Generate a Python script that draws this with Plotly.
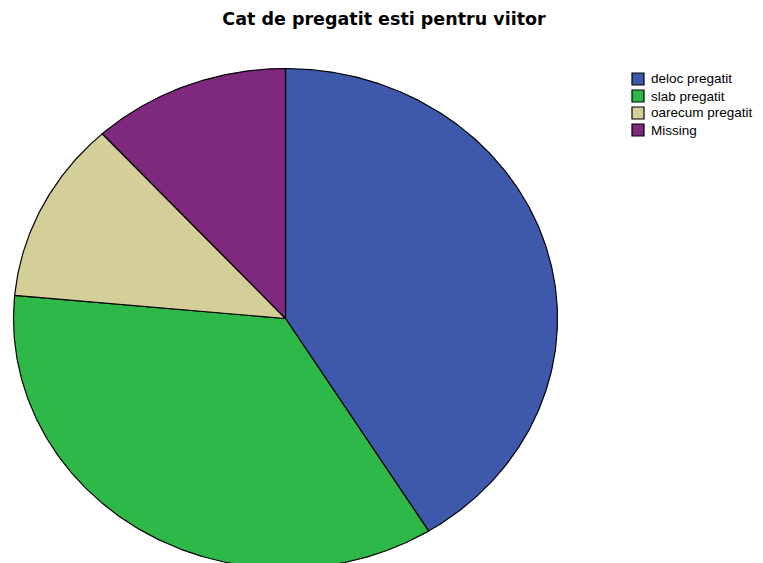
import numpy as np
import plotly.graph_objects as go

# Survey answers: "Cat de pregatit esti pentru viitor"
categories = ["deloc pregatit", "slab pregatit", "oarecum pregatit", "Missing"]
counts = [7, 6, 2, 2]
colors = ["#3E58AC", "#2EB848", "#D4CE98", "#7E287E"]

# Slices drawn as filled wedges on a unit circle; the axis ranges stretch it
# into an ellipse (wider than tall), starting at 12 o'clock going clockwise.
total = sum(counts)
fracs = np.cumsum([0] + counts) / total

fig = go.Figure()
for i, (name, col) in enumerate(zip(categories, colors)):
    a0, a1 = fracs[i] * 2 * np.pi, fracs[i + 1] * 2 * np.pi
    t = np.linspace(a0, a1, max(int((a1 - a0) * 120), 8))
    xs = np.concatenate([[0], np.sin(t), [0]])
    ys = np.concatenate([[0], np.cos(t), [0]])
    fig.add_trace(go.Scatter(
        x=xs, y=ys, mode="lines", fill="toself", fillcolor=col,
        line=dict(color="black", width=1.2), name=name,
        hoverinfo="name", showlegend=False,
    ))

W, H = 763, 563
cx, cy = 285.5, 318.5   # pie centre in pixels
rx, ry = 272, 250       # pie half-width / half-height in pixels

# Compact legend: square swatch + label per category, rows 17 px apart
leg_x, leg_y0, leg_step, sw = 632, 79, 17, 12
shapes, annotations = [], []
for i, (name, col) in enumerate(zip(categories, colors)):
    yc = leg_y0 + i * leg_step
    shapes.append(dict(
        type="rect", xref="paper", yref="paper",
        x0=leg_x / W, x1=(leg_x + sw) / W,
        y0=1 - (yc + sw / 2) / H, y1=1 - (yc - sw / 2) / H,
        fillcolor=col, line=dict(color="black", width=1.2),
    ))
    annotations.append(dict(
        text=name, xref="paper", yref="paper",
        x=(leg_x + sw + 5) / W, y=1 - yc / H,
        xanchor="left", yanchor="middle", showarrow=False,
        font=dict(family="Liberation Sans, Arial", size=13.5, color="black"),
    ))

fig.update_layout(
    width=W, height=H,
    margin=dict(l=0, r=0, t=0, b=0),
    paper_bgcolor="white", plot_bgcolor="white",
    title=dict(text="<b>Cat de pregatit esti pentru viitor</b>",
               x=384 / W, xanchor="center", y=1 - 19 / H, yanchor="middle",
               font=dict(family="DejaVu Sans", size=17.5, color="black")),
    xaxis=dict(range=[-cx / rx, (W - cx) / rx], visible=False, fixedrange=True),
    yaxis=dict(range=[-(H - cy) / ry, cy / ry], visible=False, fixedrange=True),
    showlegend=False,
    shapes=shapes,
    annotations=annotations,
)

fig.write_html("out.html")
